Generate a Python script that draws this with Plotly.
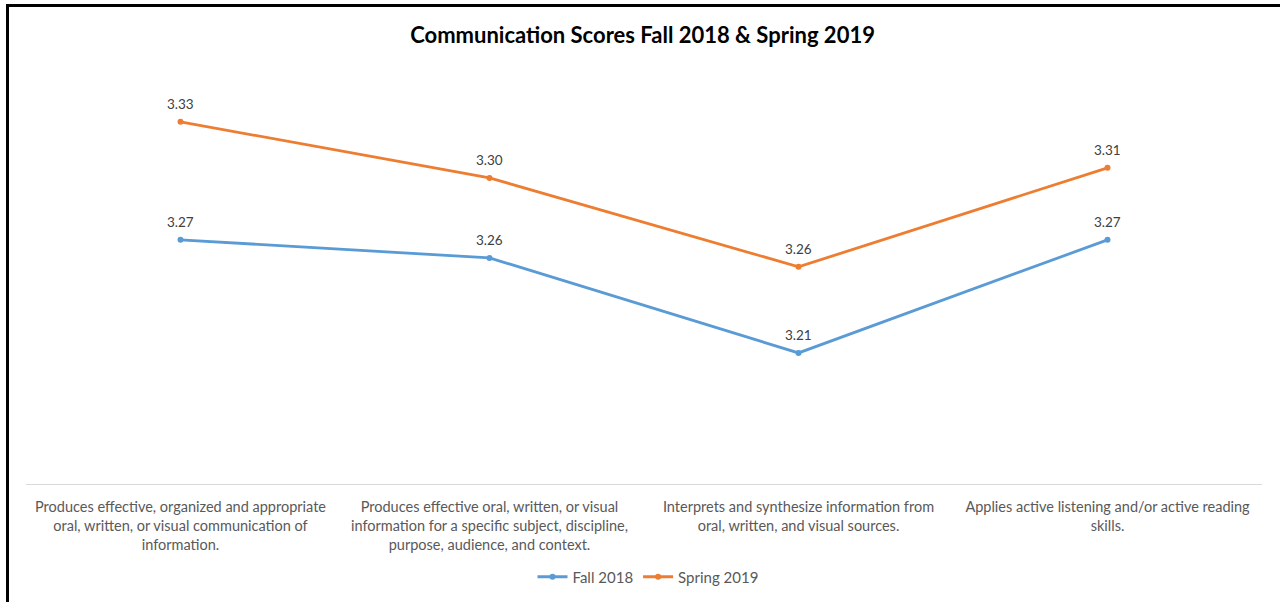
import plotly.graph_objects as go

categories = [
    "Produces effective, organized and appropriate<br>oral, written, or visual communication of<br>information.",
    "Produces effective oral, written, or visual<br>information for a specific subject, discipline,<br>purpose, audience, and context.",
    "Interprets and synthesize information from<br>oral, written, and visual sources.<br> ",
    "Applies active listening and/or active reading<br>skills.<br> ",
]
fall_2018 = [3.2703, 3.2608, 3.2108, 3.2703]
spring_2019 = [3.3324, 3.3029, 3.2561, 3.3082]

W, H = 1280, 602
ML, MR, MT, MB = 26, 18, 69, 118
PW, PH = W - ML - MR, H - MT - MB

def px_to_paper_x(px):
    return (px - ML) / PW

def px_to_paper_y(py):
    return (H - MB - py) / PH

fig = go.Figure()
series = [("Fall 2018", fall_2018, "#5B9BD5"), ("Spring 2019", spring_2019, "#ED7D31")]
annotations = []
for name, vals, col in series:
    fig.add_trace(go.Scatter(
        x=categories, y=vals, name=name, mode="lines+markers",
        line=dict(color=col, width=2.8),
        marker=dict(color=col, size=6, symbol="circle"),
        cliponaxis=False,
    ))
    for c, v in zip(categories, vals):
        annotations.append(dict(
            x=c, y=v, xref="x", yref="y", text=f"{v:.2f}", showarrow=False,
            yshift=18, font=dict(family="Lato", size=13.5, color="#404040"),
        ))

fig.update_layout(
    width=W, height=H,
    margin=dict(l=ML, r=MR, t=MT, b=MB),
    paper_bgcolor="white", plot_bgcolor="white",
    title=dict(text="<b>Communication Scores Fall 2018 &amp; Spring 2019</b>",
               x=0.502, xanchor="center", y=1 - 35 / H, yanchor="middle",
               font=dict(family="Lato", size=22, color="#000000")),
    font=dict(family="Lato", color="#595959"),
    showlegend=True,
    legend=dict(orientation="h", xref="container", yref="container",
                x=648 / W, xanchor="center",
                y=1 - 577 / H, yanchor="middle",
                font=dict(family="Lato", size=15, color="#595959"),
                tracegroupgap=0),
    xaxis=dict(type="category", showgrid=False, zeroline=False,
               showline=True, linecolor="#D9D9D9", linewidth=1,
               ticks="outside", ticklen=10, tickcolor="rgba(0,0,0,0)",
               tickfont=dict(family="Lato", size=14.5, color="#595959"),
               range=[-0.5, 3.5], automargin=False),
    yaxis=dict(range=[3.1418, 3.1418 + PH / 1900], showgrid=False, zeroline=False,
               showticklabels=False, showline=False, ticks="", automargin=False),
    annotations=annotations,
    shapes=[
        dict(type="line", xref="paper", yref="paper",
             x0=px_to_paper_x(7.5), x1=px_to_paper_x(7.5),
             y0=px_to_paper_y(4), y1=px_to_paper_y(602),
             line=dict(color="#000000", width=3)),
        dict(type="line", xref="paper", yref="paper",
             x0=px_to_paper_x(6), x1=px_to_paper_x(1280),
             y0=px_to_paper_y(5.5), y1=px_to_paper_y(5.5),
             line=dict(color="#000000", width=3)),
    ],
)

fig.write_html("out.html", config={"displayModeBar": False},
               post_script="document.body.style.margin='0';document.body.style.overflow='hidden';")
